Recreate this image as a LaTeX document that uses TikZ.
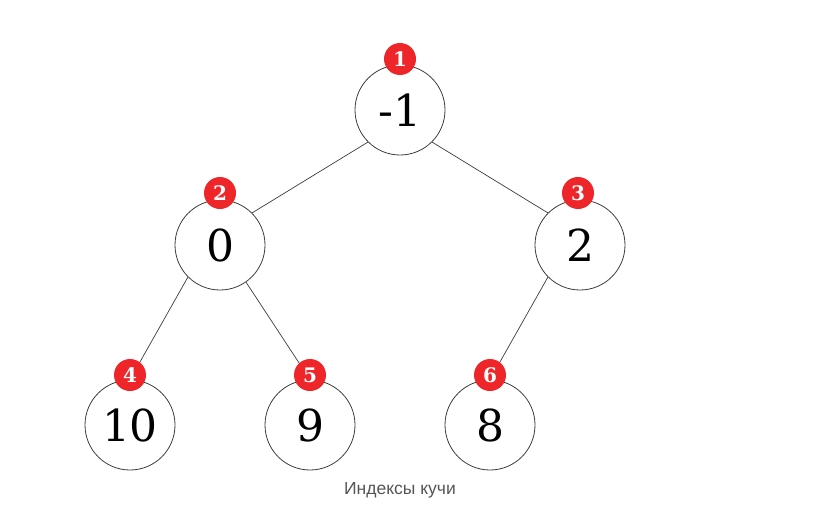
\documentclass[tikz,border=0pt]{standalone}
\usepackage{fontspec}
\setmainfont{DejaVu Serif}
\newfontfamily\capfont{Liberation Sans}
\definecolor{badgered}{RGB}{238,38,42}
\definecolor{capgray}{RGB}{85,85,85}
\definecolor{edgegray}{RGB}{60,60,60}
\begin{document}
\begin{tikzpicture}[x=1pt,y=-1pt,
  heapnode/.style={circle,draw=edgegray,line width=0.8pt,minimum size=90pt,inner sep=0pt,
    font=\fontsize{44}{46}\selectfont},
  badge/.style={circle,fill=badgered,minimum size=32pt,inner sep=0pt,text=white,
    font=\fontsize{20}{22}\selectfont\bfseries},
  link/.style={draw=edgegray,line width=0.7pt}]
\useasboundingbox (0,0) rectangle (816,530);
% tree nodes
\node[heapnode] (n1) at (400,110) {-1};
\node[heapnode] (n2) at (220,245) {0};
\node[heapnode] (n3) at (580,245) {2};
\node[heapnode] (n4) at (130,425) {10};
\node[heapnode] (n5) at (310,425) {9};
\node[heapnode] (n6) at (490,425) {8};
% edges
\draw[link] (n1.225) -- (n2.45);
\draw[link] (n1.-45) -- (n3.135);
\draw[link] (n2.225) -- (n4.north);
\draw[link] (n2.-55) -- (n5.north);
\draw[link] (n3.225) -- (n6.north);
% index badges
\node[badge] (b1) at (400,59) {1};
\node[badge] (b2) at (220,193) {2};
\node[badge] (b3) at (578,193) {3};
\node[badge] (b4) at (130,375) {4};
\node[badge] (b5) at (310,375) {5};
\node[badge] (b6) at (490,375) {6};
% caption
\node[text=capgray,font=\capfont\fontsize{17.5}{18}\selectfont] (cap) at (400,490) {Индексы кучи};
\end{tikzpicture}
\end{document}
